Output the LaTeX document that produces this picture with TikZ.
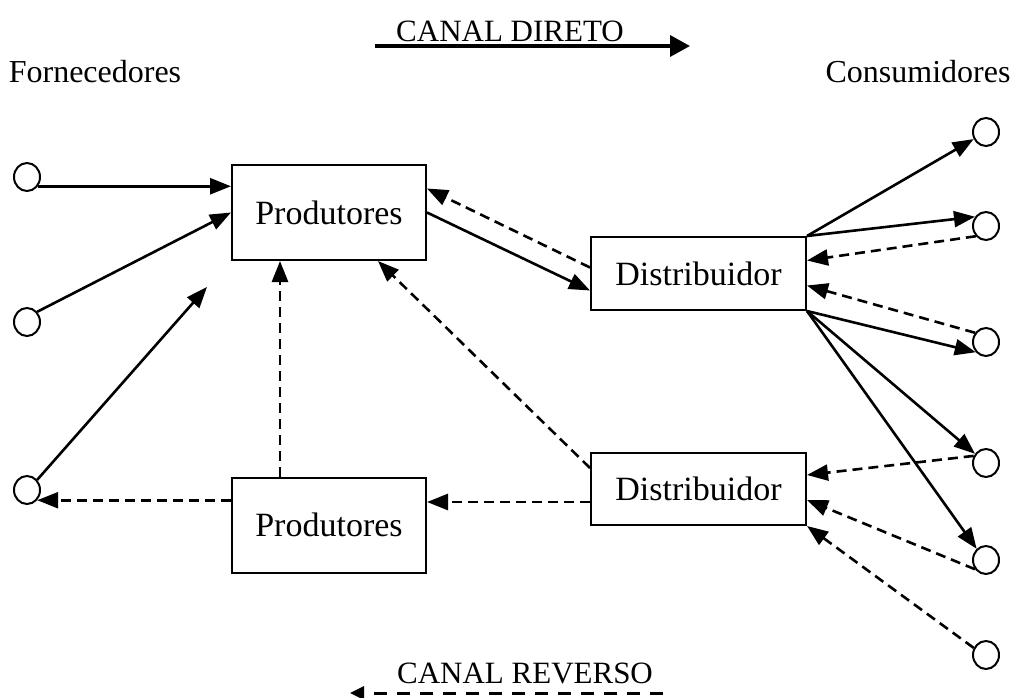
\documentclass[tikz,border=0pt]{standalone}
\usepackage{fontspec}
\setmainfont{Liberation Serif}
\usetikzlibrary{arrows.meta,shapes.geometric}
\begin{document}
\begin{tikzpicture}[x=1pt,y=-1pt,
	box/.style={draw,line width=2pt,inner sep=0pt,font=\fontsize{34}{40}\selectfont},
	agent/.style={draw,ellipse,line width=2pt,minimum width=26pt,minimum height=28pt,inner sep=0pt},
	flow/.style={line width=2.6pt,-{Triangle[length=21pt,width=16pt]}},
	back/.style={flow,dash pattern=on 10pt off 6pt},
	lbl/.style={anchor=base,font=\fontsize{32}{38}\selectfont}]
		\useasboundingbox (0,0) rectangle (1012,698);
		\node[box,minimum width=194pt,minimum height=95pt] (prodA) at (329,212.5) {Produtores};
		\node[box,minimum width=194pt,minimum height=95pt] (prodB) at (329,525) {Produtores};
		\node[box,minimum width=215pt,minimum height=73pt] (distA) at (698.5,273.5) {Distribuidor};
		\node[box,minimum width=215pt,minimum height=72pt] (distB) at (698.5,489) {Distribuidor};
		\foreach \n/\y in {1/177,2/322,3/490}
		\node[agent] (f\n) at (27,\y) {};
		\foreach \n/\y in {1/132,2/226,3/342,4/463,5/560,6/655}
		\node[agent] (c\n) at (986,\y) {};
		\node[lbl] (forn) at (95,83) {Fornecedores};
		\node[lbl] (cons) at (918,83) {Consumidores};
		\node[lbl,font=\fontsize{31}{36}\selectfont] (dir) at (510,42) {CANAL DIRETO};
		\node[lbl,font=\fontsize{31}{36}\selectfont] (rev) at (525,683) {CANAL REVERSO};
		\coordinate (dirA) at (375,46);
		\coordinate (dirB) at (690,46);
		\coordinate (revA) at (663,693);
		\coordinate (revB) at (350,693);
		\coordinate (tipF) at (207,287);
		%direct channel
		\draw[line width=3.5pt,-{Triangle[length=20pt,width=21pt]}] (dirA) -- (dirB);
		\draw[flow] (f1.-40) -- (f1.-40 -| prodA.west);
		\draw[flow] (f2.45) -- (prodA.west);
		\draw[flow] (f3.45) -- (tipF);
		\draw[flow] (prodA.east) -- ([yshift=-17pt]distA.west);
		\draw[flow] (distA.north east) -- (c1.210);
		\draw[flow] (distA.north east) -- (c2.140);
		\draw[flow] (distA.south east) -- (c3.225);
		\draw[flow] (distA.south east) -- (c4.140);
		\draw[flow] (distA.south east) -- (c5.130);
		%reverse channel
		\draw[line width=3pt,dash pattern=on 13pt off 10pt,-{Triangle[length=14pt,width=13pt]}] (revA) -- (revB);
		\draw[back] (c2.225) -- ([yshift=13pt]distA.east);
		\draw[back] (c3.140) -- ([yshift=-12pt]distA.east);
		\draw[back] (c4.150) -- ([yshift=14pt]distB.east);
		\draw[back] (c5.220) -- ([yshift=-11pt]distB.east);
		\draw[back] (c6.150) -- (distB.south east);
		\draw[back] ([yshift=6pt]distA.west) -- ([yshift=24pt]prodA.east);
		\draw[back] ([yshift=21pt]distB.west) -- ([xshift=49pt]prodA.south);
		\draw[back] ([yshift=-13pt]distB.west) -- ([yshift=-13pt]distB.west -| prodB.east);
		\draw[back] ([xshift=-49pt]prodB.north) -- ([xshift=-49pt]prodA.south);
		\draw[back] (f3.-45 -| prodB.west) -- (f3.-45);
\end{tikzpicture}
\end{document}
